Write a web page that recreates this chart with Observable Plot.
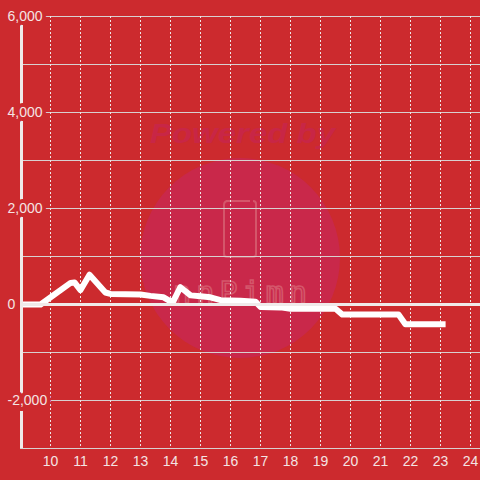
<!DOCTYPE html>
<html>
<head>
<meta charset="utf-8">
<script src="https://cdn.jsdelivr.net/npm/d3@7"></script>
<script src="https://cdn.jsdelivr.net/npm/@observablehq/plot@0.6"></script>
<style>
  html, body { margin: 0; padding: 0; background: #cc2a2e; }
  #chart { width: 480px; height: 480px; }
</style>
</head>
<body>
<div id="chart"></div>
<script>
const hours  = [9.0, 9.67, 10.67, 10.8, 11.0, 11.3, 11.83, 12.0, 13.0, 13.33, 13.77, 14.07, 14.33, 14.67, 15.0, 15.33, 15.67, 16.33, 16.83, 17.0, 17.67, 18.0, 19.5, 19.73, 21.6, 21.83, 23.17];
const values = [0, 0, 450, 460, 300, 620, 250, 220, 210, 180, 150, 40, 360, 190, 170, 150, 90, 80, 60, -50, -60, -90, -90, -210, -210, -410, -410];
const gridYTicks = [-3000, -2000, -1000, 0, 1000, 2000, 3000, 4000, 5000, 6000];
const yLabelTicks = [-2000, 0, 2000, 4000, 6000];
const xTicks = [10, 11, 12, 13, 14, 15, 16, 17, 18, 19, 20, 21, 22, 23, 24];

const bg = "#cc2a2e";
const labelColor = "#f4e4e4";
const data = hours.map((h, i) => ({hour: h, value: values[i]}));
const fmt = d => d.toLocaleString("en-US");

const chart = Plot.plot({
  width: 480,
  height: 480,
  marginTop: 16,
  marginBottom: 32,
  marginLeft: 20,
  marginRight: 0,
  style: {background: bg, fontFamily: "Liberation Sans, Arial, sans-serif", fontSize: "14px"},
  x: {domain: [9, 24 + 1/3], axis: null},
  y: {domain: [-3000, 6000], axis: null},
  marks: [
    Plot.ruleY(gridYTicks, {stroke: "#d8d0d0", strokeWidth: 1}),
    Plot.ruleX(xTicks, {stroke: "#eee6e6", strokeWidth: 1, strokeDasharray: "2,2"}),
    Plot.line(data, {x: "hour", y: "value", stroke: "white", strokeWidth: 6, strokeLinejoin: "round", strokeLinecap: "butt"}),
    Plot.ruleY([0], {stroke: "#f0eaea", strokeWidth: 3}),
    Plot.ruleX([9], {stroke: "#f0eaea", strokeWidth: 3, dx: 1}),
    Plot.text(yLabelTicks, {x: 9, y: d => d, text: fmt, textAnchor: "start", dx: -13, fill: labelColor, stroke: bg, strokeWidth: 8, fontSize: 14}),
    Plot.text(xTicks, {x: d => d, y: -3000, text: d => String(d), dy: 13, fill: labelColor, fontSize: 14})
  ]
});

// watermark layer behind the marks
const svg = d3.select(chart);
const wm = svg.insert("g", ":first-child").attr("pointer-events", "none").attr("text-anchor", "start");
wm.append("circle").attr("cx", 240).attr("cy", 258).attr("r", 100).attr("fill", "#c9284a");
wm.append("text").attr("x", 150).attr("y", 143).attr("text-anchor", "start")
  .attr("textLength", 185).attr("lengthAdjust", "spacingAndGlyphs")
  .attr("font-family", "Liberation Sans, Arial, sans-serif").attr("font-weight", "bold").attr("font-style", "italic")
  .attr("font-size", 28).attr("fill", "#c82646").text("Powered by");
wm.append("path")
  .attr("d", "M226,201 H250 M253,201 Q256,201 256,204 V254 Q256,257 253,257 H227 Q224,257 224,254 V205 Q224,201 228,201")
  .attr("fill", "none").attr("stroke", "#d4566a").attr("stroke-width", 2);
wm.append("text").attr("x", 173).attr("y", 303).attr("text-anchor", "start")
  .attr("textLength", 134).attr("lengthAdjust", "spacing")
  .attr("font-family", "DejaVu Sans Mono, monospace").attr("font-size", 30)
  .attr("fill", "none").attr("stroke", "#d4566a").attr("stroke-width", 1.6).text("nnPimn");

document.getElementById("chart").appendChild(chart);
</script>
</body>
</html>
